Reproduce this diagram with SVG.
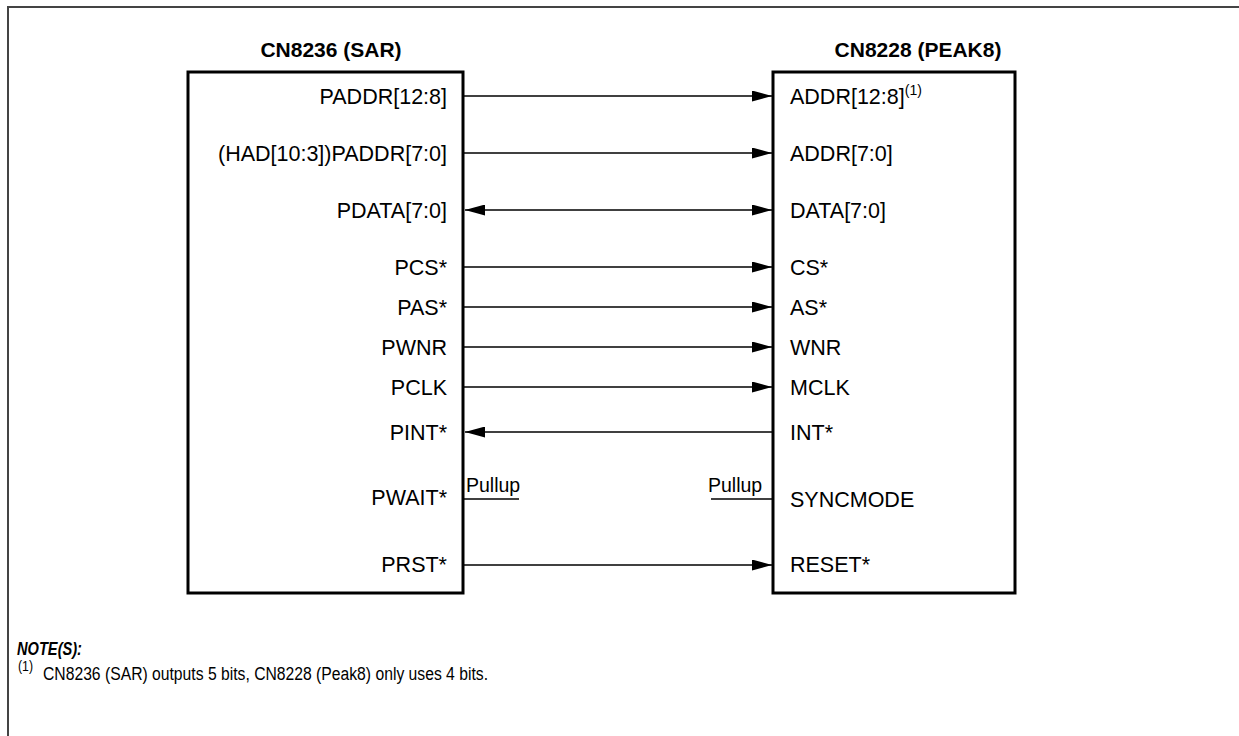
<svg xmlns="http://www.w3.org/2000/svg" width="1239" height="736" viewBox="0 0 1239 736">
<style>
.frame{fill:none;stroke:#444;stroke-width:2}
.box{fill:#fff;stroke:#000;stroke-width:3}
.lbl{font-family:"Liberation Sans",Arial,sans-serif;font-size:21.5px;fill:#000}
.pu{font-family:"Liberation Sans",Arial,sans-serif;font-size:19.5px;fill:#000}
.r{text-anchor:end}
.ttl{font-family:"Liberation Sans",Arial,sans-serif;font-size:21px;font-weight:bold;text-anchor:middle;fill:#000}
.sup{font-family:"Liberation Sans",Arial,sans-serif;font-size:14px;fill:#000}
.wire{stroke:#000;stroke-width:1.6;fill:none}
.note{font-family:"Liberation Sans",Arial,sans-serif;font-size:18px;fill:#000}
</style>
<defs>
<marker id="ah" viewBox="0 0 20 11" refX="20" refY="5.5" markerWidth="20" markerHeight="11" orient="auto-start-reverse" markerUnits="userSpaceOnUse"><path d="M0,0 L20,5.5 L0,11 z" fill="#000"/></marker>
</defs>
<rect width="1239" height="736" fill="#fff"/>
<path class="frame" d="M8,740 V7 H1245"/>
<g id="sar">
<rect class="box" x="188" y="72" width="275" height="521"/>
<text class="ttl" x="331" y="57">CN8236 (SAR)</text>
<text class="lbl r" x="447" y="104">PADDR[12:8]</text>
<text class="lbl r" x="447" y="161">(HAD[10:3])PADDR[7:0]</text>
<text class="lbl r" x="447" y="218">PDATA[7:0]</text>
<text class="lbl r" x="447" y="275">PCS*</text>
<text class="lbl r" x="447" y="315">PAS*</text>
<text class="lbl r" x="447" y="355">PWNR</text>
<text class="lbl r" x="447" y="395">PCLK</text>
<text class="lbl r" x="447" y="440">PINT*</text>
<text class="lbl r" x="447" y="505">PWAIT*</text>
<text class="lbl r" x="447" y="572">PRST*</text>
</g>
<g id="peak8">
<rect class="box" x="773" y="72" width="242" height="521"/>
<text class="ttl" x="918" y="57">CN8228 (PEAK8)</text>
<text class="lbl" x="790" y="104">ADDR[12:8]<tspan class="sup" dy="-9">(1)</tspan></text>
<text class="lbl" x="790" y="161">ADDR[7:0]</text>
<text class="lbl" x="790" y="218">DATA[7:0]</text>
<text class="lbl" x="790" y="275">CS*</text>
<text class="lbl" x="790" y="315">AS*</text>
<text class="lbl" x="790" y="355">WNR</text>
<text class="lbl" x="790" y="395">MCLK</text>
<text class="lbl" x="790" y="440">INT*</text>
<text class="lbl" x="790" y="507">SYNCMODE</text>
<text class="lbl" x="790" y="572">RESET*</text>
</g>
<g id="connectors">
<line class="wire" x1="464" y1="96" x2="772" y2="96" marker-end="url(#ah)"/>
<line class="wire" x1="464" y1="153" x2="772" y2="153" marker-end="url(#ah)"/>
<line class="wire" x1="465" y1="210" x2="772" y2="210" marker-start="url(#ah)" marker-end="url(#ah)"/>
<line class="wire" x1="464" y1="267" x2="772" y2="267" marker-end="url(#ah)"/>
<line class="wire" x1="464" y1="307" x2="772" y2="307" marker-end="url(#ah)"/>
<line class="wire" x1="464" y1="347" x2="772" y2="347" marker-end="url(#ah)"/>
<line class="wire" x1="464" y1="387" x2="772" y2="387" marker-end="url(#ah)"/>
<line class="wire" x1="465" y1="432" x2="772" y2="432" marker-start="url(#ah)"/>
<line class="wire" x1="464" y1="565" x2="772" y2="565" marker-end="url(#ah)"/>
</g>
<g id="pullups">
<line class="wire" x1="464" y1="499" x2="519" y2="499"/>
<text class="pu" x="466" y="492">Pullup</text>
<line class="wire" x1="711" y1="499" x2="772" y2="499"/>
<text class="pu" x="708" y="492">Pullup</text>
</g>
<g id="notes">
<text class="note" x="17" y="655" font-weight="bold" font-style="italic" textLength="65" lengthAdjust="spacingAndGlyphs">NOTE(S):</text>
<text class="sup" x="18" y="671" font-size="13" textLength="15" lengthAdjust="spacingAndGlyphs">(1)</text>
<text class="note" x="43" y="680" textLength="445" lengthAdjust="spacingAndGlyphs">CN8236 (SAR) outputs 5 bits, CN8228 (Peak8) only uses 4 bits.</text>
</g>
</svg>
